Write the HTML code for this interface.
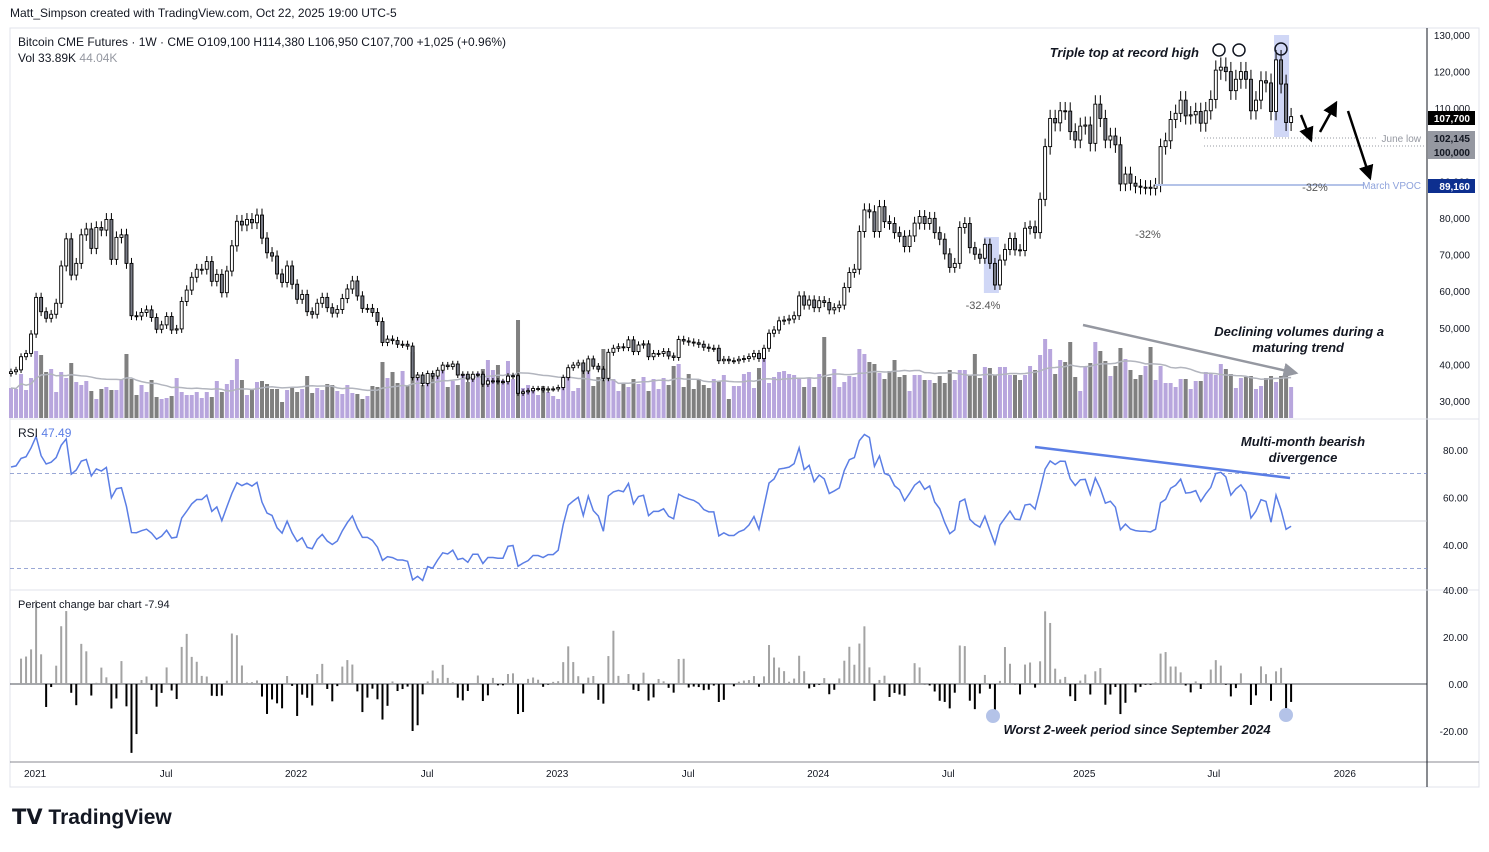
<!DOCTYPE html>
<html><head><meta charset="utf-8"><title>Bitcoin CME Futures</title>
<style>
body{margin:0;background:#fff;font-family:"Liberation Sans",sans-serif;}
svg text{font-family:"Liberation Sans",sans-serif;}
</style></head>
<body>
<svg id="chart" width="1489" height="847" viewBox="0 0 1489 847" xmlns="http://www.w3.org/2000/svg">
<rect x="0" y="0" width="1489" height="847" fill="#fff"/>
<text x="10" y="17" font-size="12" fill="#131722">Matt_Simpson created with TradingView.com, Oct 22, 2025 19:00 UTC-5</text>
<rect x="10" y="28" width="1469" height="759" fill="none" stroke="#e0e3eb"/>
<line x1="1427" y1="28" x2="1427" y2="787" stroke="#131722" stroke-width="1"/>
<line x1="10" y1="419" x2="1479" y2="419" stroke="#e0e3eb"/>
<line x1="10" y1="590" x2="1479" y2="590" stroke="#e0e3eb"/>
<line x1="10" y1="762" x2="1479" y2="762" stroke="#131722" stroke-width="0.6"/>
<g id="vol"></g><g id="notes"></g><g id="candles"></g><g id="rsi"></g><g id="pct"></g><g id="axes"></g>
<text x="18" y="46" font-size="12" fill="#131722">Bitcoin CME Futures · 1W · CME  O109,100  H114,380  L106,950  C107,700  +1,025 (+0.96%)</text>
<text x="18" y="62" font-size="12" fill="#131722">Vol  33.89K <tspan fill="#9598a1">44.04K</tspan></text>
<text x="18" y="437" font-size="12" fill="#131722">RSI <tspan fill="#5b7ee5">47.49</tspan></text>
<text x="18" y="608" font-size="11" fill="#131722">Percent change bar chart  -7.94</text>
<text x="12" y="824" font-size="21" font-weight="bold" fill="#131722">𝗧𝗩 TradingView</text>
</svg>
<script>
const closes=[38,38.5,42.1,43,48.3,58.3,54.4,52.6,53.7,56.7,66.9,74.3,64.4,67.6,75.4,77,71.7,77.4,76.7,79.6,68.7,74.7,75.4,67.6,53.3,53.2,54.2,54.9,52.8,49.6,50.8,53.1,49.4,49.7,57.2,60.3,63.8,66,66,68.1,62.7,64.6,59.6,65.5,72.4,79.1,78.1,79.6,78.7,80.8,74.5,70.5,69.6,64.7,62.4,66.9,61.9,57.8,59.1,54.4,53.7,56.7,58.3,55.5,54,55,58,60.6,62.8,58.7,55.3,55.3,54.2,51.7,46,46.9,
46.5,45.5,45.5,45.0,36.4,37.1,34.8,37.5,36.8,38.4,39.8,39.4,40.1,37.1,37.3,36,37.3,37.3,34.6,35.5,35.5,35.3,35.3,36.8,36.9,32.1,32.5,32.8,33.4,33.4,33.0,33.3,33.3,33.7,36.4,39.1,39.8,40.4,38.2,41.5,39.5,38.7,36.2,43.3,44.4,44.8,44.6,46.7,43.5,45.3,45.6,42.1,43,43,43.5,42.3,41.9,46.8,46.4,46.1,45.9,45.5,44.7,44.4,44.4,41,41.4,41,41,41.4,41.6,42.1,43.0,41.6,44.4,48.5,49.4,51.9,52.1,52.4,53.3,58.7,56.2,57.6,55.5,57.4,56.9,54.9,55.5,56.2,
61,65.1,66,76.3,82.2,81.7,76.3,83.1,79,78.5,76,75,72.2,75.1,78.6,80.4,78.5,79.9,76,74.2,70.2,66.5,67.6,77.4,78.5,71.9,70.1,69,72.8,67.6,61.7,68.5,71.4,74.4,71.3,71.1,77.2,77.6,76,85.1,99.5,107.2,106,109.3,109.2,103.6,101.3,105.1,105.4,100.4,111.1,107.2,101.3,102.4,100,89.3,92,89.5,88.7,88.4,88.4,88.1,89,99.5,101.1,106.9,108.6,112.2,107.9,108.2,109.1,105.9,109.3,112.4,120.4,121.2,120,114.8,117.9,120,117.9,109.3,112.2,117.5,116.9,109.1,123.2,116.6,106.1,107.7];
const volumes=[30,29,44,28,40,67,63,46,49,26,46,40,55,36,33,37,27,19,29,31,28,28,38,64,39,23,33,26,38,21,19,20,22,40,26,23,23,26,20,26,21,37,26,34,38,59,38,23,28,36,37,34,29,29,16,28,30,26,29,42,25,30,28,34,33,27,24,33,25,24,19,22,32,31,56,40,46,
35,47,32,66,41,33,36,42,41,47,31,37,33,44,36,39,45,49,58,48,53,38,57,39,98,30,33,29,23,32,26,22,19,38,42,27,30,47,46,32,41,69,41,39,27,35,31,39,34,41,27,39,29,40,33,52,54,31,44,29,39,33,30,39,37,43,19,32,32,44,46,30,50,66,35,41,46,47,44,43,39,31,40,31,44,81,41,49,31,
36,42,41,69,64,56,54,45,39,47,58,41,43,27,43,43,38,38,35,42,35,48,38,48,48,42,64,40,51,50,43,51,51,43,43,38,43,52,48,63,79,69,44,58,56,76,41,27,52,55,76,67,57,42,52,70,59,48,39,43,52,71,38,52,35,35,31,39,39,29,37,37,46,44,43,54,49,44,30,40,41,42,29,32,40,42,36,42,48,31];
const timeLabels=["2021","Jul","2022","Jul","2023","Jul","2024","Jul","2025","Jul","2026"];
const timeIdx=[4.8,30.9,56.8,82.9,108.8,134.9,160.8,186.7,213.8,239.6,265.7];
const priceTicks=[130,120,110,100,90,80,70,60,50,40,30];
const rsiTicks=[80,60,40];
const pctTicks=[40,20,0,-20];

const NS="http://www.w3.org/2000/svg";
const xOf=i=>11+5.02*i;
const yP=v=>35+(130-v)*3.66;
const yR=v=>521-(v-50)*2.375;
const yC=v=>684-v*2.35;
const yV=v=>418-v;
function mk(tag,attrs,parent){const e=document.createElementNS(NS,tag);for(const k in attrs)e.setAttribute(k,attrs[k]);parent.appendChild(e);return e;}
const fmt=n=>n.toLocaleString('en-US');

const gV=document.getElementById('vol');
volumes.forEach((v,i)=>{const up=i===0||closes[i]>=closes[i-1];
 const r=mk('rect',{x:xOf(i)-2,y:yV(v),width:4,height:v,fill:up?'#b8a6dd':'#808080'},gV);
 
 });
let ma=[];volumes.forEach((v,i)=>{const s=volumes.slice(Math.max(0,i-19),i+1);ma.push(s.reduce((a,b)=>a+b,0)/s.length);});
const maL=mk('polyline',{points:ma.map((m,i)=>xOf(i)+','+yV(m)).join(' '),fill:'none',stroke:'#b2b5be','stroke-width':1.5},gV);



const gN=document.getElementById('notes');
[[251.6,254.6,35,137],[193.8,196.8,237,293]].forEach(b=>{const r=mk('rect',{x:xOf(b[0]),y:b[2],width:xOf(b[1])-xOf(b[0]),height:b[3]-b[2],fill:'rgba(120,140,230,0.35)'},gN);
 
 });

const gC=document.getElementById('candles');
closes.forEach((c,i)=>{const o=i===0?c-0.5:closes[i-1];const hi=Math.max(o,c)*1.022,lo=Math.min(o,c)*0.978;
 const x=xOf(i);
 const w=mk('line',{x1:x,x2:x,y1:yP(hi),y2:yP(lo),stroke:'#000','stroke-width':1},gC);
 
 
 const t=yP(Math.max(o,c)),b=yP(Math.min(o,c));
 const r=mk('rect',{x:x-1.5,y:t,width:3,height:Math.max(1,b-t),fill:c>=o?'#fff':'#787b86',stroke:'#000','stroke-width':0.9},gC);
 
 });

const gR=document.getElementById('rsi');
[[70,'#7a8cc8','4,3'],[50,'#c8cad0',''],[30,'#7a8cc8','4,3']].forEach(l=>{const e=mk('line',{x1:10,x2:1427,y1:yR(l[0]),y2:yR(l[0]),stroke:l[1],'stroke-width':0.8,'stroke-dasharray':l[2]},gR);
 
 });
let ag=1.6,al=0.6,rsi=[];
closes.forEach((c,i)=>{if(i>0){const d=c-closes[i-1];ag=(ag*13+Math.max(d,0))/14;al=(al*13+Math.max(-d,0))/14;}rsi.push(100-100/(1+ag/al));});
const rl=mk('polyline',{points:rsi.map((v,i)=>xOf(i)+','+yR(v)).join(' '),fill:'none',stroke:'#5b7ee5','stroke-width':1.5},gR);



const gP=document.getElementById('pct');
const zl=mk('line',{x1:10,x2:1427,y1:yC(0),y2:yC(0),stroke:'#131722','stroke-width':0.8},gP);


closes.forEach((c,i)=>{if(i<2)return;const p=(c/closes[i-2]-1)*100;
 const r=mk('rect',{x:xOf(i)-1,y:Math.min(yC(p),yC(0)),width:2,height:Math.abs(yC(p)-yC(0)),fill:p>=0?'#a3a3a3':'#000'},gP);
 
 });

const gA=document.getElementById('axes');
priceTicks.forEach(v=>{const t=mk('text',{x:1470,y:yP(v)+4,'font-size':10,'text-anchor':'end',fill:'#131722'},gA);t.textContent=fmt(v*1000);
 
 });
rsiTicks.forEach(v=>{const t=mk('text',{x:1468,y:yR(v)+4,'font-size':10,'text-anchor':'end',fill:'#131722'},gA);t.textContent=v.toFixed(2);
 
 });
pctTicks.forEach(v=>{const t=mk('text',{x:1468,y:yC(v)+4,'font-size':10,'text-anchor':'end',fill:'#131722'},gA);t.textContent=v.toFixed(2);
 
 });
timeLabels.forEach((l,k)=>{const t=mk('text',{x:xOf(timeIdx[k]),y:777,'font-size':10,'text-anchor':'middle',fill:'#131722'},gA);t.textContent=l;
 
 });
// price tags: [value, label y, bg, fg, text]
[[107.7,118,'#000','#fff','107,700'],[102.145,138,'#9598a1','#131722','102,145'],[100,152,'#9598a1','#131722','100,000'],[89.16,186,'#0d2f8f','#fff','89,160']].forEach(p=>{
 const y=p[1];const r=mk('rect',{x:1428,y:y-7,width:47,height:14,fill:p[2]},gA);
 
 
 const t=mk('text',{x:1470,y:y+4,'font-size':10,'text-anchor':'end',fill:p[3],'font-weight':'bold'},gA);t.textContent=p[4];
 
 });
</script>
<svg style="position:absolute;left:0;top:0" width="1489" height="847">
<defs><marker id="ah" markerWidth="6" markerHeight="6" refX="5" refY="3" orient="auto"><path d="M0,0 L6,3 L0,6 z" fill="#000"/></marker>
<marker id="ahg" markerWidth="6" markerHeight="6" refX="5" refY="3" orient="auto"><path d="M0,0 L6,3 L0,6 z" fill="#9598a1"/></marker></defs>
<text x="1199" y="57" font-size="13" font-weight="bold" font-style="italic" text-anchor="end" fill="#131722">Triple top at record high</text>
<circle cx="1219" cy="50" r="6" fill="none" stroke="#131722" stroke-width="1.5"/>
<circle cx="1239" cy="50" r="6" fill="none" stroke="#131722" stroke-width="1.5"/>
<circle cx="1281" cy="49" r="6" fill="none" stroke="#131722" stroke-width="1.5"/>
<line x1="1204" y1="138" x2="1378" y2="138" stroke="#9598a1" stroke-dasharray="1,2"/>
<text x="1421" y="142" font-size="10" text-anchor="end" fill="#9598a1">June low</text>
<line x1="1204" y1="146" x2="1425" y2="146" stroke="#9598a1" stroke-dasharray="1,2"/>
<line x1="1155" y1="185" x2="1364" y2="185" stroke="#b4c3e8" stroke-width="2"/>
<text x="1421" y="189" font-size="10" text-anchor="end" fill="#8fa3dc">March VPOC</text>
<text x="1315" y="191" font-size="11" text-anchor="middle" fill="#555">-32%</text>
<text x="1148" y="238" font-size="11" text-anchor="middle" fill="#555">-32%</text>
<text x="983" y="309" font-size="11" text-anchor="middle" fill="#555">-32.4%</text>
<line x1="1301" y1="115" x2="1311" y2="140" stroke="#000" stroke-width="2.5" marker-end="url(#ah)"/>
<line x1="1320" y1="132" x2="1336" y2="103" stroke="#000" stroke-width="2.5" marker-end="url(#ah)"/>
<line x1="1348" y1="111" x2="1370" y2="178" stroke="#000" stroke-width="2.5" marker-end="url(#ah)"/>
<line x1="1083" y1="325" x2="1296" y2="373" stroke="#9598a1" stroke-width="2.5" marker-end="url(#ahg)"/>
<text font-size="13" font-weight="bold" font-style="italic" text-anchor="end" fill="#131722"><tspan x="1384" y="336">Declining volumes during a</tspan><tspan x="1344" y="352">maturing trend</tspan></text>
<line x1="1035" y1="447" x2="1290" y2="478" stroke="#5b7ee5" stroke-width="2.5"/>
<text font-size="13" font-weight="bold" font-style="italic" text-anchor="middle" fill="#131722"><tspan x="1303" y="446">Multi-month bearish</tspan><tspan x="1303" y="462">divergence</tspan></text>
<circle cx="993" cy="716" r="7" fill="#b4c3e8"/>
<circle cx="1286" cy="715" r="7" fill="#b4c3e8"/>
<text x="1137" y="734" font-size="13" font-weight="bold" font-style="italic" text-anchor="middle" fill="#131722">Worst 2-week period since September 2024</text>
</svg>
</body></html>
